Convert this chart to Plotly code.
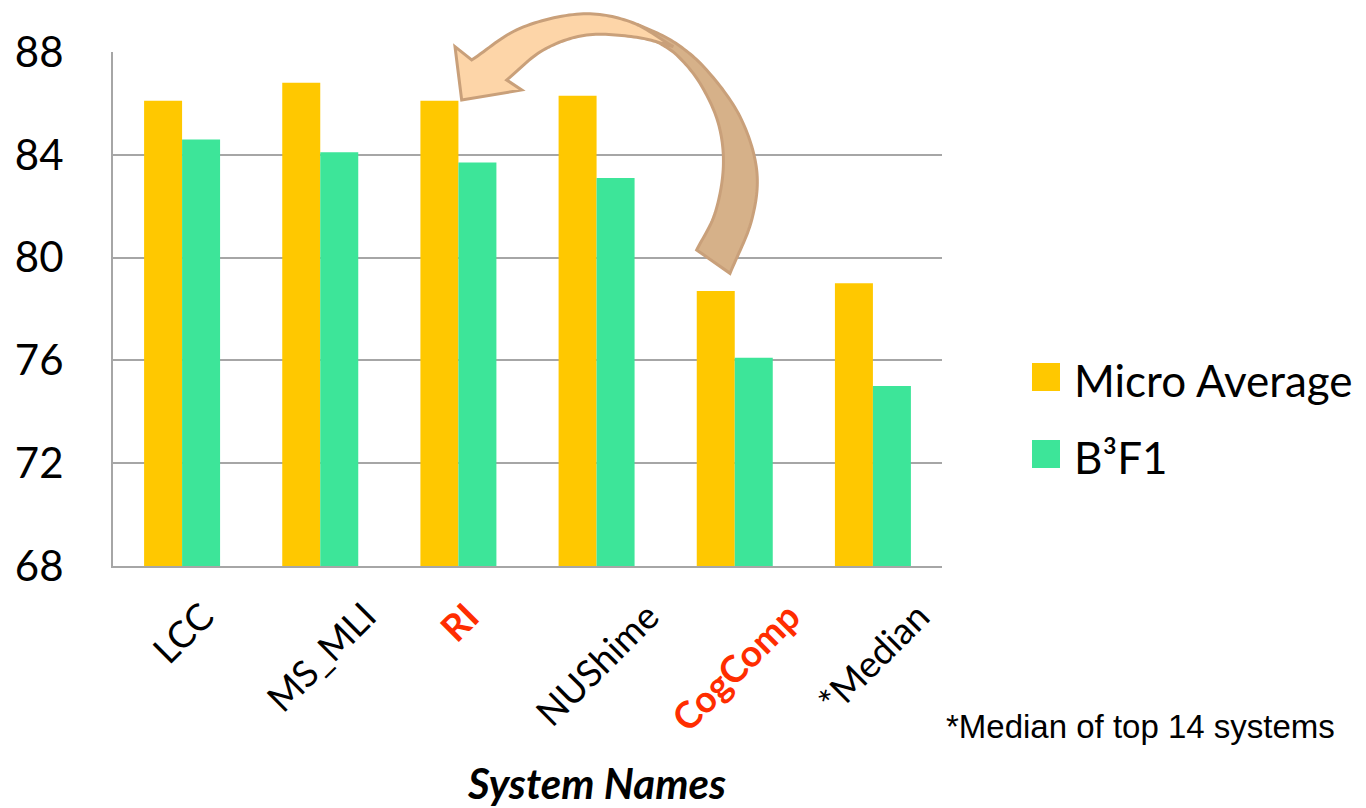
import numpy as np
import plotly.graph_objects as go

# ---------------- data ----------------
systems = ["LCC", "MS_MLI", "RI", "NUShime", "CogComp", "*Median"]
highlighted = ["RI", "CogComp"]
micro_average = [86.1, 86.8, 86.1, 86.3, 78.7, 79.0]
b3f1 = [84.6, 84.1, 83.7, 83.1, 76.1, 75.0]
series_names = ["Micro Average", "B³F1"]
y_ticks = [68, 72, 76, 80, 84, 88]
x_title = "System Names"
footnote = "*Median of top 14 systems"

# ---------------- style ----------------
W, H = 1366, 808
L, R, T, B = 113, 942, 52, 566          # plot area in pixels
YELLOW = "#FFC800"
GREEN = "#3DE599"
RED = "#FF2D00"
GRID = "#A6A6A6"
colors = [YELLOW, GREEN]


def px2paper(x, y):
    return (x - L) / (R - L), (B - y) / (B - T)


def ticklabel(name):
    if name in highlighted:
        return f"<b><span style='color:{RED}'>{name}</span></b>"
    return name


fig = go.Figure()
for name, vals, col in zip(series_names, [micro_average, b3f1], colors):
    fig.add_trace(go.Bar(x=systems, y=vals, name=name, marker=dict(color=col, line=dict(width=0)),
                         showlegend=False))

fig.update_layout(
    width=W, height=H,
    margin=dict(l=L, r=W - R, t=T, b=H - B),
    paper_bgcolor="white", plot_bgcolor="white",
    barmode="group", bargap=0.45, bargroupgap=0,
    font=dict(family="Lato", color="black"),
)
fig.update_yaxes(
    range=[68, 88], tickvals=y_ticks, ticktext=[str(v) for v in y_ticks],
    showgrid=True, gridcolor=GRID, gridwidth=2,
    showline=True, linecolor=GRID, linewidth=2,
    ticks="", ticklabelstandoff=39,
    tickfont=dict(family="Lato", size=42, color="black"),
    zeroline=False,
)
fig.update_xaxes(
    tickvals=systems, showticklabels=False, ticks="",
    showline=True, linecolor=GRID, linewidth=2, showgrid=False,
)

# ---------- rotated category labels (centred under each category) ----------
_, label_top = px2paper(0, 590)
for s in systems:
    fig.add_annotation(xref="x", yref="paper", x=s, y=label_top, text=ticklabel(s),
                       textangle=-45, showarrow=False, xanchor="center", yanchor="top",
                       font=dict(family="Lato", size=37, color="black"))

# ---------- manual legend ----------
legend_rows = [(363, 391, 380), (440, 468, 457)]
for (y0, y1, yt), name, col in zip(legend_rows, series_names, colors):
    x0p, y0p = px2paper(1032, y1)
    x1p, y1p = px2paper(1060, y0)
    fig.add_shape(type="rect", xref="paper", yref="paper", x0=x0p, x1=x1p, y0=y0p, y1=y1p,
                  fillcolor=col, line=dict(width=0))
    tx, ty = px2paper(1072, yt)
    fig.add_annotation(xref="paper", yref="paper", x=tx, y=ty, text=name, showarrow=False,
                       xanchor="left", yanchor="middle",
                       font=dict(family="Lato", size=44, color="black"))

# ---------- x axis title & footnote ----------
tx, ty = px2paper(596, 783)
fig.add_annotation(xref="paper", yref="paper", x=tx, y=ty, text=f"<b><i>{x_title}</i></b>",
                   showarrow=False, xanchor="center", yanchor="middle",
                   font=dict(family="Lato", size=42, color="black"))
tx, ty = px2paper(944, 726)
fig.add_annotation(xref="paper", yref="paper", x=tx, y=ty, text=footnote,
                   showarrow=False, xanchor="left", yanchor="middle",
                   font=dict(family="Liberation Sans", size=33, color="black"))


# ---------- curved arrow decoration ----------
def catmull(points, n=16):
    pts = np.array(points, dtype=float)
    ext = np.vstack([pts[0] * 2 - pts[1], pts, pts[-1] * 2 - pts[-2]])
    out = []
    for i in range(1, len(ext) - 2):
        p0, p1, p2, p3 = ext[i - 1], ext[i], ext[i + 1], ext[i + 2]
        for t in np.linspace(0, 1, n, endpoint=False):
            t2, t3 = t * t, t * t * t
            out.append(0.5 * ((2 * p1) + (-p0 + p2) * t + (2 * p0 - 5 * p1 + 4 * p2 - p3) * t2
                              + (-p0 + 3 * p1 - 3 * p2 + p3) * t3))
    out.append(pts[-1])
    return out


def zoom2px(p):
    return (420 + p[0] / 3.0, p[1] / 3.0)


def path_from(segments):
    pts = []
    for kind, seg in segments:
        seg_px = [zoom2px(p) for p in seg]
        if kind == "curve":
            pts.extend(catmull(seg_px))
        else:
            pts.extend(seg_px)
    parts = []
    for i, (x, y) in enumerate(pts):
        xp, yp = px2paper(x, y)
        parts.append(("M" if i == 0 else "L") + f"{xp:.5f},{yp:.5f}")
    return " ".join(parts) + " Z"


dark = path_from([
    ("curve", [(650, 72), (760, 125), (860, 210), (960, 350), (1010, 510), (995, 660), (930, 820)]),
    ("line", [(830, 750)]),
    ("curve", [(830, 750), (885, 640), (910, 500), (895, 370), (840, 250), (770, 165), (700, 118)]),
])
light = path_from([
    ("line", [(125, 300), (105, 140)]),
    ("curve", [(155, 180), (300, 85), (480, 42), (630, 65), (760, 140)]),
    ("curve", [(760, 140), (650, 112), (500, 105), (370, 150), (260, 240)]),
    ("line", [(305, 270)]),
])
fig.add_shape(type="path", xref="paper", yref="paper", path=dark, layer="above",
              fillcolor="#D6B189", line=dict(color="#C9A07A", width=3))
fig.add_shape(type="path", xref="paper", yref="paper", path=light, layer="above",
              fillcolor="#FDD5A8", line=dict(color="#C9A07A", width=3))

fig.write_html("out.html")
